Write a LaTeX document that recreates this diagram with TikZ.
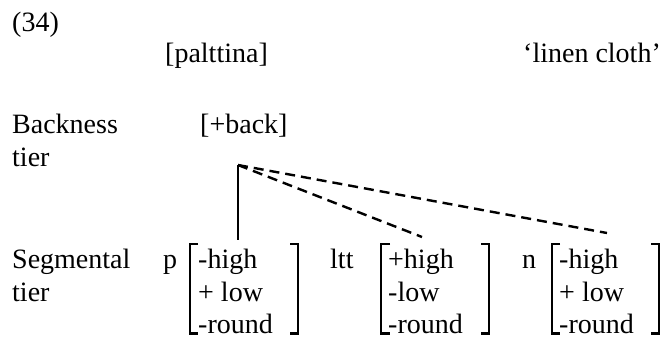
\documentclass[tikz,border=0pt]{standalone}
\usepackage{fontspec}
\setmainfont{Liberation Serif}
\begin{document}
\begin{tikzpicture}[x=1bp,y=-1bp,
  txt/.style={anchor=base west,inner sep=0pt,font=\fontsize{28bp}{33.5bp}\selectfont},
  brk/.style={line width=2.4bp,line cap=butt,line join=miter},
  assoc/.style={line width=2.4bp},
  spread/.style={line width=2.4bp,dash pattern=on 10bp off 6bp}]
\useasboundingbox (0,0) rectangle (665,336);

% example number, form and gloss
\node[txt] (num)   at (12,31)  {(34)};
\node[txt] (form)  at (165,62) {[palttina]};
\node[txt] (gloss) at (523,62) {‘linen cloth’};

% backness tier
\node[txt] (bk1)  at (12,133)  {Backness};
\node[txt] (bk2)  at (12,166)  {tier};
\node[txt] (back) at (200,133) {[+back]};

% segmental tier labels
\node[txt] (sg1) at (12,268)   {Segmental};
\node[txt] (sg2) at (12,301) {tier};

% segments
\node[txt] (p)   at (163,268) {p};
\node[txt] (ltt) at (330,268) {ltt};
\node[txt] (n)   at (522,268) {n};

% feature bundle of p
\node[txt] (pa) at (198,268) {-high};
\node[txt] (pb) at (198,301) {+ low};
\node[txt] (pc) at (198,333) {-round};
\draw[brk] (198,244) -- (190,244) -- (190,333.5) -- (198,333.5);
\draw[brk] (290,244) -- (298,244) -- (298,333.5) -- (290,333.5);

% feature bundle of ltt
\node[txt] (la) at (388,268) {+high};
\node[txt] (lb) at (388,301) {-low};
\node[txt] (lc) at (388,333) {-round};
\draw[brk] (390,244) -- (381,244) -- (381,333.5) -- (390,333.5);
\draw[brk] (481,244) -- (489,244) -- (489,333.5) -- (481,333.5);

% feature bundle of n
\node[txt] (na) at (559,268) {-high};
\node[txt] (nb) at (559,301) {+ low};
\node[txt] (nc) at (559,333) {-round};
\draw[brk] (560,244) -- (552,244) -- (552,333.5) -- (560,333.5);
\draw[brk] (651,244) -- (659,244) -- (659,333.5) -- (651,333.5);

% association lines from [+back]
\coordinate (root) at (238,165);
\coordinate (pend) at (238,240);
\coordinate (lend) at (422,237);
\coordinate (nend) at (607,233);
\draw[assoc] (root) -- (pend);
\draw[spread] (root) -- (lend);
\draw[spread] (root) -- (nend);
\end{tikzpicture}
\end{document}
